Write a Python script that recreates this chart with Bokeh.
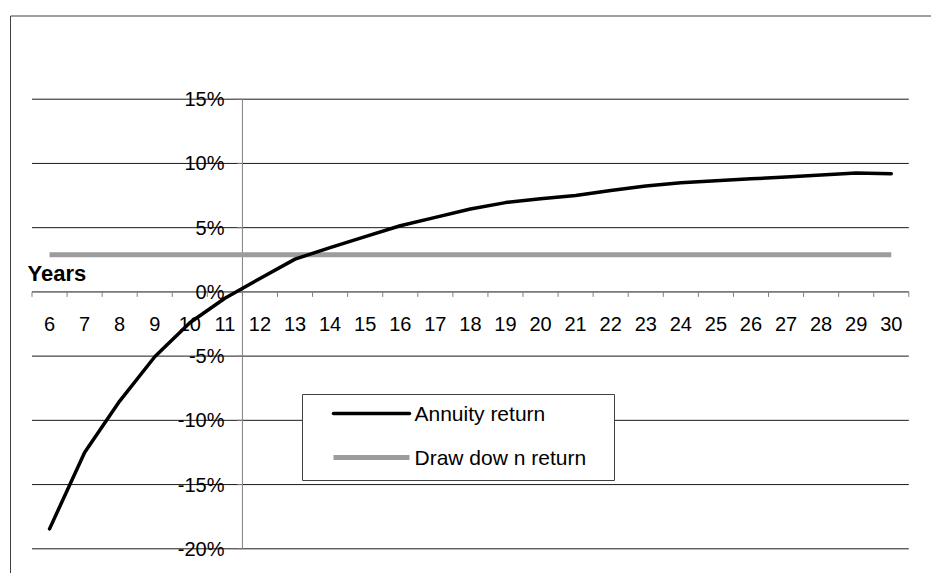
from bokeh.plotting import figure
from bokeh.models import Range1d, Grid
from bokeh.core.properties import value
from bokeh.embed import file_html
from bokeh.resources import INLINE

# ---- data -------------------------------------------------------------
years = [6, 7, 8, 9, 10, 11, 12, 13, 14, 15, 16, 17, 18,
         19, 20, 21, 22, 23, 24, 25, 26, 27, 28, 29, 30]
year_labels = [str(y) for y in years]

# annual returns, in percent
annuity_return = [-18.45, -12.5, -8.5, -5.05, -2.4, -0.5, 1.05, 2.55, 3.45,
                  4.3, 5.15, 5.8, 6.45, 6.95, 7.25, 7.5, 7.9, 8.25, 8.5,
                  8.65, 8.8, 8.95, 9.1, 9.25, 9.2]
drawdown_return = [2.9, 2.9, 2.9, 2.9, 2.9, 2.9, 2.9, 2.9, 2.9, 2.9, 2.9,
                   2.9, 2.9, 2.9, 2.9, 2.9, 2.9, 2.9, 2.9, 2.9, 2.9, 2.9,
                   2.9, 2.9, 2.9]

y_ticks = [-20, -15, -10, -5, 0, 5, 10, 15]
y_tick_labels = ["-20%", "-15%", "-10%", "-5%", "0%", "5%", "10%", "15%"]

series_names = ["Annuity return", "Draw dow n return"]
x_axis_title = "Years"

# ---- page geometry (pixels) -------------------------------------------
W, H = 931, 573
PA_LEFT, PA_RIGHT = 31.5, 908.3     # plot area, horizontal
PA_TOP, PA_BOTTOM = 98.7, 548.3     # plot area, vertical

X_LO, X_HI = years[0] - 0.5, years[-1] + 0.5
Y_LO, Y_HI = y_ticks[0], y_ticks[-1]
SX = (PA_RIGHT - PA_LEFT) / (X_HI - X_LO)
SY = (PA_BOTTOM - PA_TOP) / (Y_HI - Y_LO)


def dx(px):
    """screen x (px from left) -> data x"""
    return X_LO + (px - PA_LEFT) / SX


def dy(py):
    """screen y (px from top) -> data y"""
    return Y_HI - (py - PA_TOP) / SY


# value axis crosses between the 11th and 12th year
Y_AXIS_AT = years[5] + 0.5
TICK = 5  # tick length in px

FONT = value("Liberation Sans")
FS = "20px"
GRID_COLOR = "#1a1a1a"
AXIS_COLOR = "#808080"
FRAME_COLOR = "#404040"
ANNUITY_COLOR = "black"
DRAWDOWN_COLOR = "#9c9c9c"

p = figure(width=W, height=H,
           x_range=Range1d(dx(0), dx(W)), y_range=Range1d(dy(H), dy(0)),
           output_backend="svg", toolbar_location=None,
           x_axis_location=None, y_axis_location=None,
           min_border=0, outline_line_color=None)
p.background_fill_color = "white"
p.border_fill_color = "white"
# no default grids: gridlines are drawn explicitly below
p.renderers = [r for r in p.renderers if not isinstance(r, Grid)]
p.center = [r for r in p.center if not isinstance(r, Grid)]

# chart area border (continues past the right and bottom edges)
p.quad(left=[dx(10)], right=[dx(W + 20)], top=[dy(15.5)], bottom=[dy(H + 20)],
       fill_color=None, line_color=FRAME_COLOR, line_width=1)

# horizontal gridlines
p.segment(x0=[X_LO] * len(y_ticks), x1=[X_HI] * len(y_ticks),
          y0=y_ticks, y1=y_ticks, line_color=GRID_COLOR, line_width=1)

# category axis along 0%
boundaries = [y - 0.5 for y in years] + [X_HI]
p.segment(x0=[X_LO], x1=[X_HI], y0=[0], y1=[0],
          line_color=AXIS_COLOR, line_width=1)
p.segment(x0=boundaries, x1=boundaries,
          y0=[0] * len(boundaries), y1=[-TICK / SY] * len(boundaries),
          line_color=AXIS_COLOR, line_width=1)

# value axis
p.segment(x0=[Y_AXIS_AT], x1=[Y_AXIS_AT], y0=[Y_LO], y1=[Y_HI],
          line_color=AXIS_COLOR, line_width=1)
p.segment(x0=[Y_AXIS_AT - TICK / SX] * len(y_ticks),
          x1=[Y_AXIS_AT] * len(y_ticks),
          y0=y_ticks, y1=y_ticks, line_color=AXIS_COLOR, line_width=1)

# series
p.line(years, drawdown_return, line_color=DRAWDOWN_COLOR, line_width=5)
p.line(years, annuity_return, line_color=ANNUITY_COLOR, line_width=3.5,
       line_join="round", line_cap="round")

# tick labels
p.text(x=[dx(224)] * len(y_ticks), y=y_ticks, text=y_tick_labels,
       text_align="right", text_baseline="middle",
       text_font=FONT, text_font_size=FS, text_color="black")
p.text(x=years, y=[dy(323)] * len(years), text=year_labels,
       text_align="center", text_baseline="middle",
       text_font=FONT, text_font_size=FS, text_color="black")
p.text(x=[dx(27)], y=[dy(273)], text=[x_axis_title],
       text_align="left", text_baseline="middle",
       text_font=FONT, text_font_size="22px", text_font_style="bold",
       text_color="black")

# legend
p.quad(left=[dx(302)], right=[dx(614)], top=[dy(394)], bottom=[dy(480)],
       fill_color="white", line_color=FRAME_COLOR, line_width=1)
row_y = [dy(413), dy(457)]
p.segment(x0=[dx(333)], x1=[dx(409)], y0=[row_y[0]], y1=[row_y[0]],
          line_color=ANNUITY_COLOR, line_width=3.5, line_cap="round")
p.segment(x0=[dx(333)], x1=[dx(409)], y0=[row_y[1]], y1=[row_y[1]],
          line_color=DRAWDOWN_COLOR, line_width=5)
p.text(x=[dx(414)] * 2, y=row_y, text=series_names,
       text_align="left", text_baseline="middle",
       text_font=FONT, text_font_size="21px", text_color="black")

open("out.html", "w").write(file_html(p, INLINE))
